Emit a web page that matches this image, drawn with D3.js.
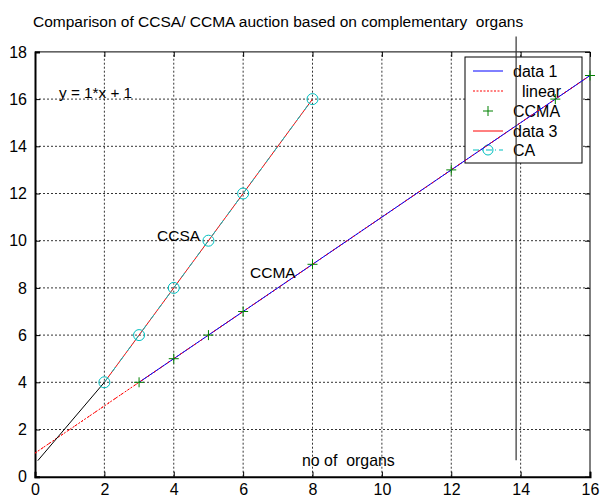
<!DOCTYPE html>
<html><head><meta charset="utf-8">
<script src="https://cdn.jsdelivr.net/npm/d3@7"></script>
<style>body{margin:0;background:#fff}text{font-family:"Liberation Sans",Arial,sans-serif;white-space:pre}</style>
</head><body><svg id="c" width="600" height="499"></svg>
<script>
// data
const ccsaX = [2,3,4,5,6,8];
const ccsaY = [4,6,8,10,12,16];
const ccmaX = [3,4,5,6,8,12,15,16];
const ccmaY = [4,5,6,7,9,13,16,17];
const linearX = [0,16];
const linearY = [1,17];
const blackX = [0.08,2];
const blackY = [0.68,4];
const vertX = [13.87,13.87];
const vertY = [0.7,18.65];
const xTicks = [0,2,4,6,8,10,12,14,16];
const yTicks = [0,2,4,6,8,10,12,14,16,18];
const legendLabels = ["data 1","  linear","CCMA","data 3","CA"];
const title = "Comparison of CCSA/ CCMA auction based on complementary  organs";

const svg = d3.select("#c");
const x = d3.scaleLinear().domain([0,16]).range([35,590]);
const y = d3.scaleLinear().domain([0,18]).range([476.7,51.9]);
const pts = (xs,ys)=>xs.map((v,i)=>[v,ys[i]]);
const line = d3.line().x(d=>x(d[0])).y(d=>y(d[1]));

svg.append("text").attr("x",33).attr("y",27).attr("font-size",15.5).text(title);

// grid
const g = svg.append("g");
xTicks.slice(1,-1).forEach(t=>g.append("line").attr("x1",x(t)).attr("x2",x(t)).attr("y1",y(0)).attr("y2",y(18))
  .attr("stroke","#000").attr("stroke-width",0.8).attr("stroke-dasharray","2,2"));
yTicks.slice(1,-1).forEach(t=>g.append("line").attr("x1",x(0)).attr("x2",x(16)).attr("y1",y(t)).attr("y2",y(t))
  .attr("stroke","#000").attr("stroke-width",0.8).attr("stroke-dasharray","2,2"));

// box (top/right)
svg.append("line").attr("x1",x(0)).attr("x2",x(16)).attr("y1",y(18)).attr("y2",y(18)).attr("stroke","#000").attr("stroke-width",1);
svg.append("line").attr("x1",x(16)).attr("x2",x(16)).attr("y1",y(0)).attr("y2",y(18)).attr("stroke","#000").attr("stroke-width",1);

// axes
const xa = svg.append("g").attr("transform",`translate(0,${y(0)})`)
  .call(d3.axisBottom(x).tickValues(xTicks).tickSize(-5).tickPadding(7).tickFormat(d3.format("d")));
const ya = svg.append("g").attr("transform",`translate(${x(0)},0)`)
  .call(d3.axisLeft(y).tickValues(yTicks).tickSize(-5).tickPadding(8).tickFormat(d3.format("d")));
// top/right ticks
svg.append("g").attr("transform",`translate(0,${y(18)})`)
  .call(d3.axisTop(x).tickValues(xTicks).tickSize(-5).tickFormat("")).select(".domain").remove();
svg.append("g").attr("transform",`translate(${x(16)},0)`)
  .call(d3.axisRight(y).tickValues(yTicks).tickSize(-5).tickFormat("")).select(".domain").remove();
[xa,ya].forEach(a=>{a.select(".domain").attr("stroke-width",2);a.selectAll("text").attr("font-size",16).attr("fill","#000").attr("font-family","Liberation Sans, Arial");});
xa.selectAll("text").attr("dy","0.71em");

// legend box
const lg = svg.append("g");
lg.append("rect").attr("x",465).attr("y",57).attr("width",117).attr("height",106).attr("fill","#fff").attr("stroke","#000").attr("stroke-width",1);
const ly = [71,91,111,131,150];
lg.append("line").attr("x1",473).attr("x2",503).attr("y1",ly[0]).attr("y2",ly[0]).attr("stroke","#0000ff");
lg.append("line").attr("x1",473).attr("x2",503).attr("y1",ly[1]).attr("y2",ly[1]).attr("stroke","#ff0000").attr("stroke-dasharray","2,1.5");
lg.append("path").attr("d",`M${488-5},${ly[2]}h10M488,${ly[2]-5}v10`).attr("stroke","#008000");
lg.append("line").attr("x1",473).attr("x2",503).attr("y1",ly[3]).attr("y2",ly[3]).attr("stroke","#ff0000");
lg.append("line").attr("x1",473).attr("x2",503).attr("y1",ly[4]).attr("y2",ly[4]).attr("stroke","#00bfbf").attr("stroke-dasharray","6,3,1,3");
lg.append("circle").attr("cx",488).attr("cy",ly[4]).attr("r",5).attr("fill","none").attr("stroke","#00bfbf");
legendLabels.forEach((l,i)=>lg.append("text").attr("x",513).attr("y",ly[i]+6).attr("font-size",16).text(l));

// data lines
svg.append("path").attr("d",line(pts(linearX,linearY))).attr("fill","none").attr("stroke","#ff0000").attr("stroke-dasharray","2,1.5");
svg.append("path").attr("d",line(pts(ccmaX,ccmaY))).attr("fill","none").attr("stroke","#0000ff");
svg.append("path").attr("d",line(pts(linearX,linearY))).attr("fill","none").attr("stroke","#ff0000").attr("stroke-dasharray","2,6").attr("stroke-width",1);
svg.append("path").attr("d",line(pts(ccsaX,ccsaY))).attr("fill","none").attr("stroke","#ff0000");
svg.append("path").attr("d",line(pts(ccsaX,ccsaY))).attr("fill","none").attr("stroke","#00bfbf").attr("stroke-dasharray","6,3,1,3").attr("stroke-width",1);
svg.append("path").attr("d",line(pts(blackX,blackY))).attr("fill","none").attr("stroke","#000");
svg.append("path").attr("d",line(pts(vertX,vertY))).attr("fill","none").attr("stroke","#333").attr("stroke-width",1.2);

// markers
svg.selectAll(".plus").data(pts(ccmaX,ccmaY)).join("path").attr("d",d=>`M${x(d[0])-5},${y(d[1])}h10M${x(d[0])},${y(d[1])-5}v10`).attr("stroke","#008000");
svg.selectAll(".circ").data(pts(ccsaX,ccsaY)).join("circle").attr("cx",d=>x(d[0])).attr("cy",d=>y(d[1])).attr("r",5.5).attr("fill","none").attr("stroke","#00bfbf");

// annotations
svg.append("text").attr("x",59).attr("y",98).attr("font-size",15.3).text("y = 1*x + 1");
svg.append("text").attr("x",157).attr("y",241).attr("font-size",15.5).text("CCSA");
svg.append("text").attr("x",250).attr("y",278).attr("font-size",15.5).text("CCMA");
svg.append("text").attr("x",302).attr("y",466).attr("font-size",15.9).text("no of  organs");
</script></body></html>
